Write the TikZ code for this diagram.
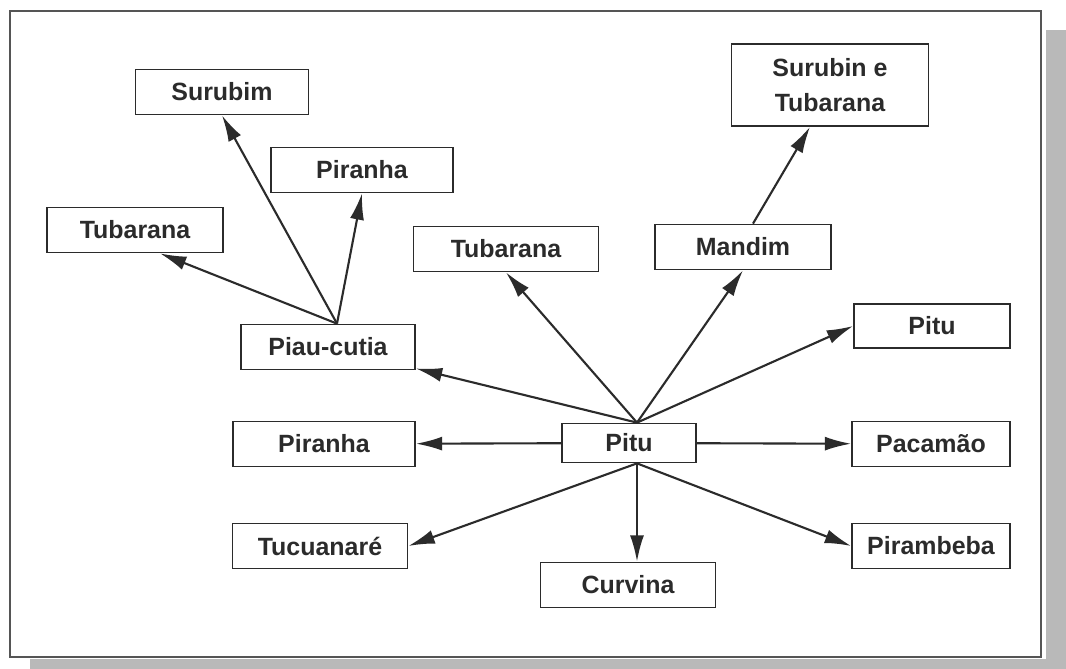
\documentclass[tikz,border=0pt]{standalone}
\usepackage{fontspec}
\setmainfont{Liberation Sans}
\usetikzlibrary{arrows.meta}

\definecolor{ink}{HTML}{2B2B2B}
\tikzset{
  fish/.style={draw=ink, line width=1pt, inner sep=0pt, minimum height=0.9cm,
    text=ink, align=center, font=\fontsize{14.2}{20}\selectfont\bfseries},
  link/.style={color=ink, line width=1.2pt,
    every edge/.append style={-{Latex[length=15pt,width=8pt]}}},
}

\begin{document}
\begin{tikzpicture}[x=0.02cm,y=-0.02cm]
                \useasboundingbox (0,0) rectangle (1066,669);
                \fill[gray!55] (1046,30) rectangle (1066,669);
                \fill[gray!55] (30,659)  rectangle (1066,669);
                \draw[ink!80, line width=0.7pt, fill=white] (10,11) rectangle (1041,657);

                \node[fish, minimum width=3.46cm] (Surubim)  at (222,92)  {Surubim};
                \node[fish, minimum width=3.64cm] (PiranhaT) at (362,170) {Piranha};
                \node[fish, minimum width=3.52cm] (TubL)     at (135,230) {Tubarana};
                \node[fish, minimum width=3.7cm]  (TubM)     at (506,249) {Tubarana};
                \node[fish, minimum width=3.94cm, minimum height=1.64cm]
                                                  (SurTub)   at (830,85)  {Surubin e\\Tubarana};
                \node[fish, minimum width=3.52cm] (Mandim)   at (743,247) {Mandim};
                \node[fish, minimum width=3.12cm, minimum height=0.88cm]
                                                  (PituR)    at (932,326) {Pitu};

                \node[fish, minimum width=3.48cm] (Piau)     at (328,347) {Piau-cutia};
                \node[fish, minimum width=3.64cm] (PiranhaM) at (324,444) {Piranha};
                \node[fish, minimum width=3.5cm]  (Tucu)     at (320,546) {Tucuanaré};

                \node[fish, minimum width=2.68cm, minimum height=0.78cm]
                                                  (Pitu)     at (629,443) {Pitu};
                \node[fish, minimum width=3.16cm] (Pacamao)  at (931,444) {Pacamão};
                \node[fish, minimum width=3.16cm] (Pirambeba) at (931,546) {Pirambeba};
                \node[fish, minimum width=3.5cm]  (Curvina)  at (628,585) {Curvina};

                \coordinate (hubN)  at ([xshift=0.16cm]Pitu.north);
                \coordinate (hubS)  at ([xshift=0.16cm]Pitu.south);
                \coordinate (piauN) at ([xshift=0.18cm]Piau.north);

                \path[link]
                (hubN)  edge (Piau)
                (hubN)  edge (TubM.south)
                (hubN)  edge (Mandim.south)
                (hubN)  edge (PituR.west)
                (Pitu)  edge (PiranhaM)
                (Pitu)  edge (Pacamao)
                (hubS)  edge (Tucu.east)
                (hubS)  edge (hubS |- Curvina.north)
                (hubS)  edge (Pirambeba.west)
                (piauN) edge ([xshift=0.5cm]TubL.south)
                (piauN) edge (Surubim.south)
                (piauN) edge (PiranhaT.south)
                ([xshift=0.2cm]Mandim.north) edge ([xshift=-0.4cm]SurTub.south);
\end{tikzpicture}
\end{document}
